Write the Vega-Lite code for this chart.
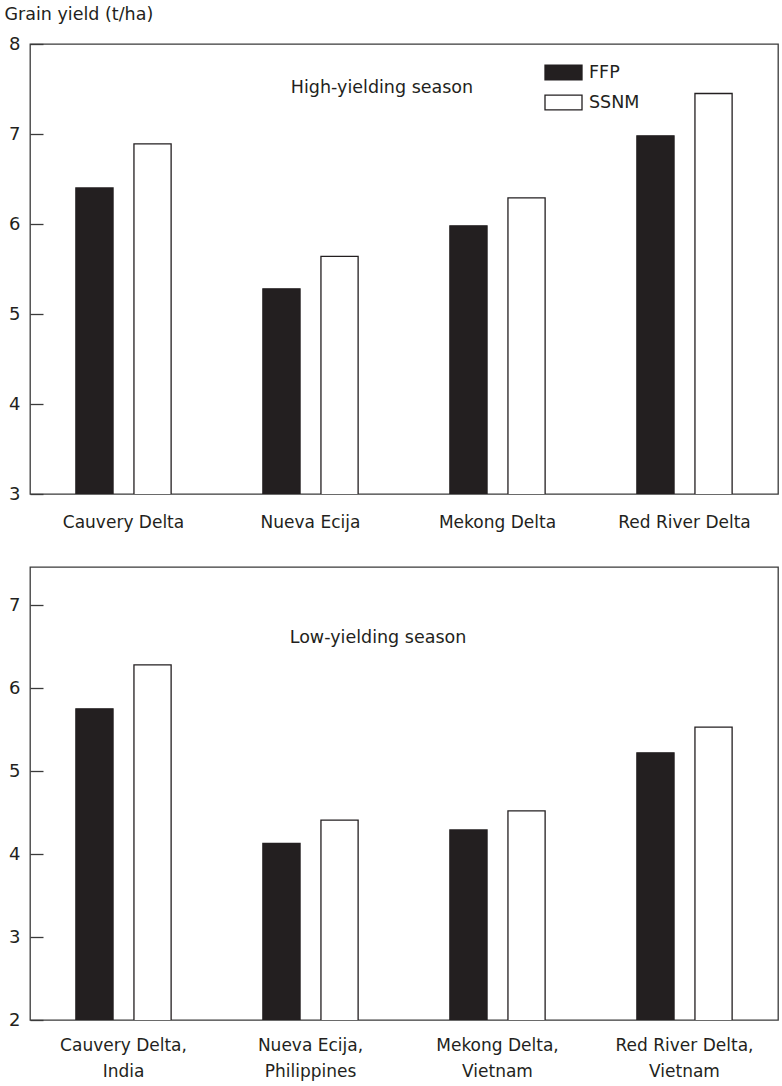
{
  "$schema": "https://vega.github.io/schema/vega-lite/v6.json",
  "padding": {"left": 3, "top": 4, "right": 5, "bottom": 4},
  "background": "white",
  "config": {
    "font": "DejaVu Sans",
    "view": {"stroke": "#3a3a3a", "strokeWidth": 1.3},
    "axis": {"labelFont": "DejaVu Sans", "labelColor": "#231f20", "labelFontSize": 18, "grid": false, "domain": false, "tickColor": "#3a3a3a", "tickWidth": 1.3},
    "title": {"font": "DejaVu Sans", "fontSize": 17.5, "fontWeight": "normal", "color": "#231f20"},
    "concat": {"spacing": 35}
  },
  "data": {"values": [
    {"season": "High", "site": "Cauvery Delta, India", "treatment": "FFP", "yield": 6.40},
    {"season": "High", "site": "Cauvery Delta, India", "treatment": "SSNM", "yield": 6.89},
    {"season": "High", "site": "Nueva Ecija, Philippines", "treatment": "FFP", "yield": 5.28},
    {"season": "High", "site": "Nueva Ecija, Philippines", "treatment": "SSNM", "yield": 5.64},
    {"season": "High", "site": "Mekong Delta, Vietnam", "treatment": "FFP", "yield": 5.98},
    {"season": "High", "site": "Mekong Delta, Vietnam", "treatment": "SSNM", "yield": 6.29},
    {"season": "High", "site": "Red River Delta, Vietnam", "treatment": "FFP", "yield": 6.98},
    {"season": "High", "site": "Red River Delta, Vietnam", "treatment": "SSNM", "yield": 7.45},
    {"season": "Low", "site": "Cauvery Delta, India", "treatment": "FFP", "yield": 5.75},
    {"season": "Low", "site": "Cauvery Delta, India", "treatment": "SSNM", "yield": 6.28},
    {"season": "Low", "site": "Nueva Ecija, Philippines", "treatment": "FFP", "yield": 4.13},
    {"season": "Low", "site": "Nueva Ecija, Philippines", "treatment": "SSNM", "yield": 4.41},
    {"season": "Low", "site": "Mekong Delta, Vietnam", "treatment": "FFP", "yield": 4.29},
    {"season": "Low", "site": "Mekong Delta, Vietnam", "treatment": "SSNM", "yield": 4.52},
    {"season": "Low", "site": "Red River Delta, Vietnam", "treatment": "FFP", "yield": 5.22},
    {"season": "Low", "site": "Red River Delta, Vietnam", "treatment": "SSNM", "yield": 5.53}
  ]},
  "vconcat": [
    {
      "width": 748,
      "height": 450,
      "transform": [{"filter": "datum.season == 'High'"}],
      "title": {"text": "High-yielding season", "anchor": "middle", "dx": -22, "offset": -91},
      "mark": {"type": "bar", "stroke": "#231f20", "strokeWidth": 1.3, "clip": true},
      "encoding": {
        "x": {"field": "site", "type": "nominal", "sort": null,
              "scale": {"paddingInner": 0, "paddingOuter": 0},
              "axis": {"title": null, "ticks": false, "labelAngle": 0, "labelPadding": 20, "labelFontSize": 17,
                       "labelExpr": "split(datum.label, ',')[0]"}},
        "xOffset": {"field": "treatment", "type": "nominal", "scale": {"paddingInner": 0.36, "paddingOuter": 0.79}},
        "y": {"field": "yield", "type": "quantitative",
              "scale": {"domain": [3, 8], "nice": false, "zero": false},
              "axis": {"values": [3, 4, 5, 6, 7, 8], "tickSize": -13, "labelPadding": 23,
                       "title": "Grain yield (t/ha)", "titleAngle": 0, "titleAlign": "left", "titleBaseline": "bottom",
                       "titleX": -26, "titleY": -21, "titleFontSize": 17.5, "titleFontWeight": "normal", "titleColor": "#231f20", "titleFont": "DejaVu Sans"}},
        "fill": {"field": "treatment", "type": "nominal",
                 "scale": {"domain": ["FFP", "SSNM"], "range": ["#231f20", "#ffffff"]},
                 "legend": {"orient": "none", "legendX": 514, "legendY": 9, "title": null,
                            "symbolType": "M-1,-0.4H1V0.4H-1Z", "symbolSize": 1369,
                            "symbolStrokeColor": "#231f20", "symbolStrokeWidth": 1.3,
                            "labelFontSize": 17.5, "labelFont": "DejaVu Sans", "labelColor": "#231f20",
                            "rowPadding": -12, "labelOffset": 6, "padding": 0}}
      }
    },
    {
      "width": 748,
      "height": 453,
      "transform": [{"filter": "datum.season == 'Low'"}],
      "title": {"text": "Low-yielding season", "anchor": "middle", "dx": -26, "offset": -79},
      "mark": {"type": "bar", "stroke": "#231f20", "strokeWidth": 1.3, "clip": true},
      "encoding": {
        "x": {"field": "site", "type": "nominal", "sort": null,
              "scale": {"paddingInner": 0, "paddingOuter": 0},
              "axis": {"title": null, "ticks": false, "labelAngle": 0, "labelPadding": 17, "labelFontSize": 17, "labelLineHeight": 26,
                       "labelExpr": "[split(datum.label, ', ')[0] + ',', split(datum.label, ', ')[1]]"}},
        "xOffset": {"field": "treatment", "type": "nominal", "scale": {"paddingInner": 0.36, "paddingOuter": 0.79}},
        "y": {"field": "yield", "type": "quantitative",
              "scale": {"domain": [2, 7.46], "nice": false, "zero": false},
              "axis": {"values": [2, 3, 4, 5, 6, 7], "tickSize": -13, "labelPadding": 23, "title": null}},
        "fill": {"field": "treatment", "type": "nominal",
                 "scale": {"domain": ["FFP", "SSNM"], "range": ["#231f20", "#ffffff"]},
                 "legend": null}
      }
    }
  ],
  "resolve": {"scale": {"fill": "independent"}, "legend": {"fill": "independent"}}
}
